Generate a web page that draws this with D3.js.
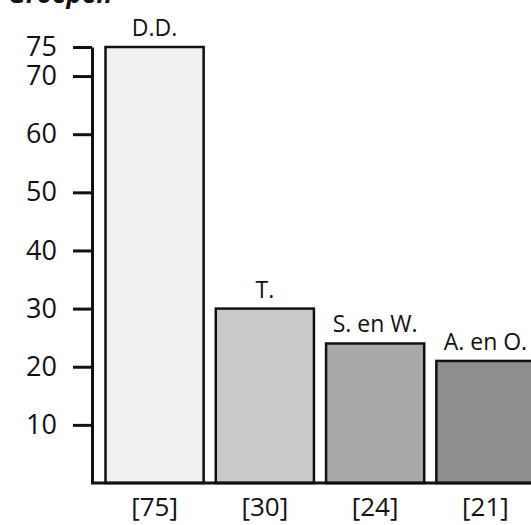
<!DOCTYPE html>
<html lang="nl">
<head>
<meta charset="utf-8">
<title>groepen</title>
<script src="https://d3js.org/d3.v7.min.js"></script>
<style>
	body { margin:0; background:#fff; }
	svg text { font-family:"Open Sans", sans-serif; fill:#111; font-weight:500; }
	.bar { stroke:#111; stroke-width:2.5px; }
</style>
</head>
<body>
<svg width="531" height="525"></svg>
<script>
// data
var categories = ["D.D.", "T.", "S. en W.", "A. en O."];
var values = [75, 30, 24, 21];
var countLabels = ["[75]", "[30]", "[24]", "[21]"];
var tickValues = [10, 20, 30, 40, 50, 60, 70, 75];
var colors = ["#f1f1f1", "#c9c9c9", "#a9a9a9", "#8d8d8d"];

var svg = d3.select("svg");

var x = d3.scaleBand()
	.domain(categories)
	.range([100, 540])
	.paddingInner(0.11)
	.paddingOuter(0.05);

var y = d3.scaleLinear()
	.domain([0, 75])
	.range([483, 47]);

// cut-off title at the top
svg.append("text")
	.attr("x", 8)
	.attr("y", 3)
	.style("font-size", "26px")
	.style("font-weight", "bold")
	.style("font-style", "italic")
	.text("Groepen");

// bars
svg.selectAll(".bar")
	.data(values)
	.enter().append("rect")
	.attr("class", "bar")
	.attr("x", function(d, i) { return x(categories[i]); })
	.attr("y", function(d) { return y(d); })
	.attr("width", x.bandwidth())
	.attr("height", function(d) { return y(0) - y(d); })
	.style("fill", function(d, i) { return colors[i]; });

// names above the bars
svg.selectAll(".name")
	.data(values)
	.enter().append("text")
	.attr("class", "name")
	.attr("x", function(d, i) { return x(categories[i]) + x.bandwidth() / 2; })
	.attr("y", function(d) { return y(d) - 11; })
	.attr("text-anchor", "middle")
	.style("font-size", "23px")
	.text(function(d, i) { return categories[i]; });

// counts below
svg.selectAll(".count")
	.data(countLabels)
	.enter().append("text")
	.attr("class", "count")
	.attr("x", function(d, i) { return x(categories[i]) + x.bandwidth() / 2; })
	.attr("y", 516)
	.attr("text-anchor", "middle")
	.style("font-size", "26px")
	.text(function(d) { return d; });

// y axis
var axis = svg.append("g")
	.attr("transform", "translate(92,0)")
	.call(d3.axisLeft(y).tickValues(tickValues).tickSize(19).tickSizeOuter(0).tickPadding(16));

axis.select(".domain").attr("stroke", "#111").attr("stroke-width", 3);
axis.selectAll(".tick line").attr("stroke", "#111").attr("stroke-width", 3);
axis.selectAll(".tick text").style("font-size", "27px").attr("fill", "#111");

// baseline
svg.append("line")
	.attr("x1", 91)
	.attr("x2", 531)
	.attr("y1", y(0))
	.attr("y2", y(0))
	.attr("stroke", "#111")
	.attr("stroke-width", 3);
</script>
</body>
</html>
